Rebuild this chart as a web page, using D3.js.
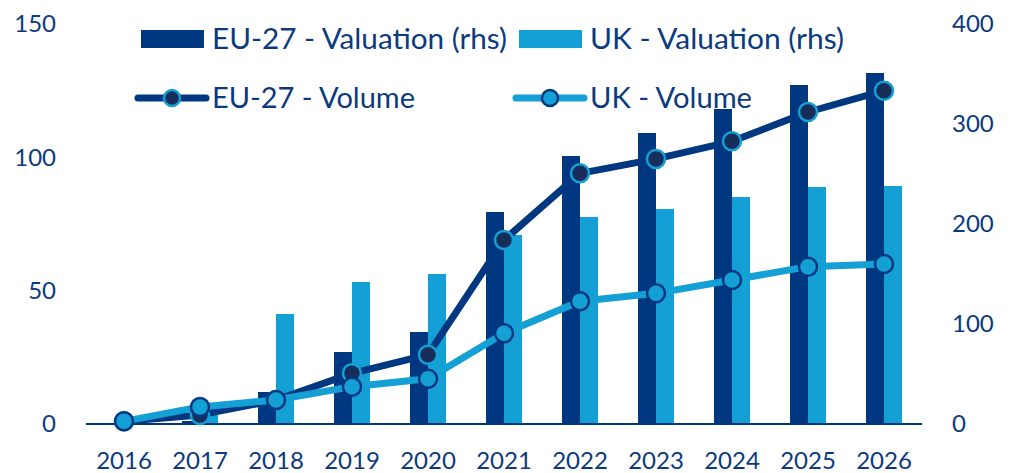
<!DOCTYPE html>
<html>
<head>
<meta charset="utf-8">
<script src="https://cdn.jsdelivr.net/npm/d3@7"></script>
<style>
    body { margin: 0; background: #fff; }
    text { font-family: Lato, "Open Sans", sans-serif; fill: #0b3a7e; }
</style>
</head>
<body>
<svg id="chart" width="1013" height="473"></svg>
<script>
'use strict';

var years = ['2016', '2017', '2018', '2019', '2020', '2021', '2022', '2023', '2024', '2025', '2026'];
var euValuation = [1, 3, 32, 72, 92, 212, 268, 291, 315, 339, 351];
var ukValuation = [1, 9, 110, 142, 150, 189, 207, 215, 227, 237, 238];
var euVolume = [1, 3.4, 9, 19, 26, 69, 94, 99.4, 106, 117, 125];
var ukVolume = [1, 6.4, 9, 14, 17, 34, 46, 49, 54, 59, 60];
var leftTicks = [0, 50, 100, 150];
var rightTicks = [0, 100, 200, 300, 400];

var dark = '#003781';
var light = '#14a0d4';
var navy = '#172d5a';

var svg = d3.select('#chart');

var x = d3.scaleBand().domain(years).range([86, 922]).padding(0);
var yLeft = d3.scaleLinear().domain([0, 150]).range([424, 24]);
var yRight = d3.scaleLinear().domain([0, 400]).range([424, 24]);
var barW = 18;

function cx(i) {
    return x(years[i]) + x.bandwidth() / 2;
}

// bars (right axis)
svg.append('g').selectAll('rect')
    .data(euValuation)
    .enter()
    .append('rect')
    .attr('x', function (d, i) { return cx(i) - barW; })
    .attr('y', function (d) { return yRight(d); })
    .attr('width', barW)
    .attr('height', function (d) { return yRight(0) - yRight(d); })
    .attr('fill', dark);

svg.append('g').selectAll('rect')
    .data(ukValuation)
    .enter()
    .append('rect')
    .attr('x', function (d, i) { return cx(i); })
    .attr('y', function (d) { return yRight(d); })
    .attr('width', barW)
    .attr('height', function (d) { return yRight(0) - yRight(d); })
    .attr('fill', light);

// baseline
svg.append('line')
    .attr('x1', 86).attr('x2', 922)
    .attr('y1', yLeft(0)).attr('y2', yLeft(0))
    .attr('stroke', dark)
    .attr('stroke-width', 2);

// lines (left axis)
var line = d3.line()
    .x(function (d, i) { return cx(i); })
    .y(function (d) { return yLeft(d); });

function drawSeries(values, stroke, dotFill, dotStroke) {
    var g = svg.append('g');
    g.append('path')
        .datum(values)
        .attr('d', line)
        .attr('fill', 'none')
        .attr('stroke', stroke)
        .attr('stroke-width', 7)
        .attr('stroke-linejoin', 'round');
    g.selectAll('circle')
        .data(values)
        .enter()
        .append('circle')
        .attr('cx', function (d, i) { return cx(i); })
        .attr('cy', function (d) { return yLeft(d); })
        .attr('r', 9)
        .attr('fill', dotFill)
        .attr('stroke', dotStroke)
        .attr('stroke-width', 2.5);
}

drawSeries(euVolume, dark, navy, light);
drawSeries(ukVolume, light, light, dark);

// axis labels
svg.append('g').selectAll('text')
    .data(leftTicks)
    .enter()
    .append('text')
    .attr('x', 56)
    .attr('y', function (d) { return yLeft(d); })
    .attr('dy', '0.35em')
    .attr('text-anchor', 'end')
    .style('font-size', '24px')
    .text(function (d) { return d; });

svg.append('g').selectAll('text')
    .data(rightTicks)
    .enter()
    .append('text')
    .attr('x', 952)
    .attr('y', function (d) { return yRight(d); })
    .attr('dy', '0.35em')
    .attr('text-anchor', 'start')
    .style('font-size', '24px')
    .text(function (d) { return d; });

svg.append('g').selectAll('text')
    .data(years)
    .enter()
    .append('text')
    .attr('x', function (d) { return x(d) + x.bandwidth() / 2; })
    .attr('y', 469)
    .attr('text-anchor', 'middle')
    .style('font-size', '24px')
    .text(function (d) { return d; });

// legend
var legend = svg.append('g');
var legendItems = [
    { label: 'EU-27 - Valuation (rhs)', type: 'bar', color: dark, x: 141, y: 39, w: 295 },
    { label: 'UK - Valuation (rhs)', type: 'bar', color: light, x: 519, y: 39, w: 254 },
    { label: 'EU-27 - Volume', type: 'line', color: dark, dotFill: navy, dotStroke: light, x: 138, y: 98, w: 203 },
    { label: 'UK - Volume', type: 'line', color: light, dotFill: light, dotStroke: dark, x: 516, y: 98, w: 162 }
];

legendItems.forEach(function (item) {
    if (item.type === 'bar') {
        legend.append('rect')
            .attr('x', item.x).attr('y', item.y - 9)
            .attr('width', 63).attr('height', 18)
            .attr('fill', item.color);
    } else {
        legend.append('line')
            .attr('x1', item.x).attr('x2', item.x + 68)
            .attr('y1', item.y).attr('y2', item.y)
            .attr('stroke', item.color)
            .attr('stroke-width', 7)
            .attr('stroke-linecap', 'round');
        legend.append('circle')
            .attr('cx', item.x + 34).attr('cy', item.y)
            .attr('r', 8)
            .attr('fill', item.dotFill)
            .attr('stroke', item.dotStroke)
            .attr('stroke-width', 2.5);
    }
    legend.append('text')
        .attr('x', item.type === 'bar' ? item.x + 71 : item.x + 74)
        .attr('y', item.y)
        .attr('dy', '0.36em')
        .attr('textLength', item.w)
        .attr('lengthAdjust', 'spacingAndGlyphs')
        .style('font-size', '28px')
        .text(item.label);
});
</script>
</body>
</html>
